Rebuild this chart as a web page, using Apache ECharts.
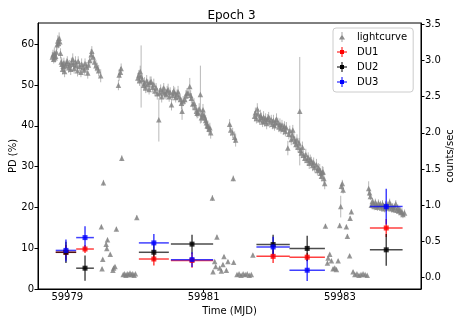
<!DOCTYPE html>
<html>
<head>
<meta charset="utf-8">
<script src="https://cdn.jsdelivr.net/npm/echarts@6/dist/echarts.min.js"></script>
<style>
html,body{margin:0;padding:0;background:#fff;}
#chart{width:463px;height:327px;}
</style>
</head>
<body>
<div id="chart"></div>
<script>
// lightcurve (counts/sec, right axis), one array per orbit: [MJD, rate, err]
var lcOrbit1 = [
  [59978.78,3.05,.07],[59978.79,3.08,.07],[59978.80,3.02,.06],[59978.81,3.10,.08],[59978.82,3.04,.07],
  [59978.83,3.06,.06],[59978.84,3.12,.08],[59978.85,3.22,.07],[59978.86,3.27,.08],[59978.87,3.24,.07],
  [59978.88,3.31,.08],[59978.89,3.26,.07],[59978.90,3.10,.07],[59978.91,2.98,.07],[59978.92,2.95,.08],
  [59978.93,2.88,.07],[59978.94,2.92,.07],[59978.95,2.97,.07],[59978.96,2.85,.08],[59978.97,2.93,.07],
  [59978.99,2.96,.07],[59979.00,2.99,.07],[59979.02,2.90,.07],[59979.03,2.94,.07],[59979.05,2.88,.08],
  [59979.06,2.97,.07],[59979.08,3.02,.08],[59979.09,2.95,.07],[59979.10,2.89,.07],[59979.12,2.98,.08],
  [59979.13,2.93,.07],[59979.15,2.86,.08],[59979.16,2.99,.07],[59979.18,2.92,.07],[59979.20,2.84,.07],
  [59979.21,2.95,.08],[59979.23,2.90,.07],[59979.25,2.87,.08],[59979.26,2.96,.07],[59979.28,2.91,.07],
  [59979.30,2.83,.08],[59979.31,2.94,.07],[59979.33,3.00,.07],[59979.35,3.08,.08],[59979.36,3.13,.07],
  [59979.38,3.05,.07],[59979.40,2.98,.07],[59979.42,2.93,.08],[59979.44,2.90,.07],[59979.46,2.86,.08],
  [59979.49,2.79,.09]
];
var lcOrbit2 = [
  [59979.50,0.70,.03],[59979.51,0.12,.02],[59979.52,0.25,.02],[59979.53,1.31,.04],[59979.57,0.46,.03],
  [59979.58,0.40,.03],[59979.59,0.52,.03],[59979.63,0.32,.02],[59979.67,0.10,.02],[59979.68,0.13,.02],
  [59979.70,0.15,.02],[59979.72,0.67,.03],[59979.75,2.66,.07],[59979.76,2.80,.08],[59979.78,2.84,.07],
  [59979.79,2.89,.07],[59979.80,1.65,.04],[59979.82,0.04,.01],[59979.84,0.05,.01],[59979.86,0.03,.01],
  [59979.88,0.05,.01],[59979.90,0.04,.01],[59979.92,0.06,.01],[59979.94,0.04,.01],[59979.96,0.05,.01],
  [59979.98,0.03,.01],[59980.00,0.05,.01],[59980.02,0.83,.03]
];
var lcOrbit3 = [
  [59980.035,2.76,.07],[59980.05,2.80,.07],[59980.06,2.72,.07],[59980.07,2.85,.08],[59980.083,2.78,.43],
  [59980.10,2.74,.07],[59980.12,2.66,.07],[59980.133,2.69,.08],[59980.15,2.62,.07],[59980.165,2.72,.08],
  [59980.182,2.67,.07],[59980.20,2.60,.07],[59980.215,2.70,.08],[59980.23,2.71,.07],[59980.25,2.63,.07],
  [59980.269,2.67,.08],[59980.285,2.58,.07],[59980.303,2.62,.07],[59980.32,2.54,.08],[59980.343,2.18,.30],
  [59980.353,2.55,.07],[59980.37,2.60,.07],[59980.385,2.50,.08],[59980.401,2.57,.07],[59980.415,2.62,.07],
  [59980.43,2.55,.08],[59980.449,2.53,.07],[59980.465,2.58,.07],[59980.479,2.60,.08],[59980.495,2.50,.07],
  [59980.51,2.56,.07],[59980.529,2.39,.08],[59980.545,2.52,.07],[59980.56,2.58,.07],[59980.577,2.55,.08],
  [59980.59,2.49,.07],[59980.61,2.53,.07],[59980.625,2.57,.08],[59980.64,2.50,.07],[59980.66,2.46,.07],
  [59980.675,2.41,.08],[59980.684,2.30,.12],[59980.70,2.44,.07],[59980.723,2.46,.07],[59980.74,2.51,.08],
  [59980.755,2.55,.07],[59980.772,2.55,.07],[59980.797,2.64,.12],[59980.81,2.52,.07],[59980.821,2.48,.07],
  [59980.84,2.40,.08],[59980.859,2.41,.07],[59980.875,2.35,.07],[59980.895,2.30,.08],[59980.905,2.27,.07],
  [59980.918,2.28,.07],[59980.935,2.33,.08],[59980.953,2.53,.40],[59980.968,2.21,.07],[59980.98,2.26,.07],
  [59980.991,2.32,.08],[59981.005,2.24,.07],[59981.016,2.21,.07],[59981.03,2.17,.08],[59981.041,2.14,.07],
  [59981.053,2.10,.07],[59981.064,2.09,.08],[59981.08,2.05,.07],[59981.092,2.07,.07],[59981.104,2.00,.08]
];
var lcOrbit4 = [
  [59981.129,1.10,.04],[59981.138,0.08,.02],[59981.163,0.22,.02],[59981.177,0.15,.02],[59981.196,0.56,.03],
  [59981.236,0.13,.02],[59981.261,0.09,.02],[59981.284,0.18,.02],[59981.299,0.29,.02],[59981.334,0.10,.02],
  [59981.357,0.22,.02],[59981.382,2.12,.07],[59981.397,2.04,.08],[59981.426,2.00,.07],[59981.435,1.37,.04],
  [59981.441,0.21,.02],[59981.455,1.94,.08],[59981.47,1.90,.09],[59981.49,0.04,.01],[59981.52,0.05,.01],
  [59981.55,0.03,.01],[59981.58,0.05,.01],[59981.61,0.04,.01],[59981.64,0.05,.01],[59981.67,0.03,.01],
  [59981.70,0.04,.01],[59981.723,0.31,.02]
];
var lcOrbit5 = [
  [59981.748,2.23,.07],[59981.76,2.28,.07],[59981.775,2.20,.07],[59981.788,2.33,.08],[59981.80,2.26,.07],
  [59981.821,2.18,.07],[59981.835,2.24,.08],[59981.85,2.21,.07],[59981.865,2.15,.07],[59981.88,2.22,.08],
  [59981.895,2.16,.07],[59981.91,2.20,.07],[59981.925,2.13,.08],[59981.94,2.19,.07],[59981.955,2.22,.07],
  [59981.97,2.15,.08],[59981.993,2.18,.07],[59982.01,2.12,.07],[59982.025,2.17,.08],[59982.04,2.10,.07],
  [59982.055,2.14,.07],[59982.07,2.19,.08],[59982.089,2.14,.07],[59982.105,2.08,.07],[59982.12,2.12,.08],
  [59982.135,2.06,.07],[59982.15,2.11,.07],[59982.17,2.05,.08],[59982.187,2.09,.07],[59982.20,2.02,.07],
  [59982.215,2.07,.08],[59982.236,1.79,.10],[59982.25,1.98,.07],[59982.265,2.03,.07],[59982.286,1.91,.08],
  [59982.30,1.97,.07],[59982.309,2.04,.07],[59982.325,1.93,.08],[59982.34,1.88,.07],[59982.355,1.84,.07],
  [59982.37,1.90,.08],[59982.385,1.80,.07],[59982.40,1.86,.07],[59982.411,2.30,.75],[59982.42,1.76,.07],
  [59982.435,1.72,.07],[59982.45,1.80,.08],[59982.465,1.69,.07],[59982.485,1.65,.07],[59982.50,1.70,.08],
  [59982.52,1.62,.07],[59982.535,1.66,.07],[59982.55,1.58,.08],[59982.565,1.63,.07],[59982.583,1.60,.07],
  [59982.60,1.55,.08],[59982.615,1.59,.07],[59982.63,1.52,.07],[59982.656,1.56,.08],[59982.67,1.48,.07],
  [59982.685,1.51,.07],[59982.704,1.49,.08],[59982.716,1.44,.07],[59982.729,1.40,.07],[59982.742,1.46,.08],
  [59982.754,1.46,.07],[59982.765,1.37,.07],[59982.777,1.30,.08]
];
var lcOrbit6 = [
  [59982.788,0.71,.03],[59982.817,0.20,.02],[59982.827,0.27,.02],[59982.851,0.32,.02],[59982.876,0.23,.02],
  [59982.90,0.12,.02],[59982.924,0.13,.02],[59982.949,0.11,.02],[59982.974,0.23,.02],[59982.997,0.72,.03],
  [59983.012,0.98,.15],[59983.022,1.26,.05],[59983.035,1.30,.05],[59983.047,1.21,.05],[59983.095,0.70,.03],
  [59983.11,0.57,.03],[59983.143,0.30,.02],[59983.15,0.82,.03],[59983.168,0.91,.03],[59983.193,0.08,.02],
  [59983.22,0.04,.01],[59983.25,0.05,.01],[59983.28,0.03,.01],[59983.31,0.04,.01],[59983.34,0.05,.01],
  [59983.37,0.04,.01],[59983.40,0.03,.01]
];
var lcOrbit7 = [
  [59983.422,1.23,.10],[59983.435,1.17,.06],[59983.447,1.12,.05],[59983.461,1.00,.05],[59983.475,1.05,.05],
  [59983.49,1.03,.05],[59983.505,0.98,.05],[59983.52,1.04,.05],[59983.535,1.00,.05],[59983.55,0.97,.05],
  [59983.565,1.03,.05],[59983.58,0.99,.05],[59983.595,1.01,.05],[59983.61,0.96,.05],[59983.625,1.02,.05],
  [59983.64,0.98,.05],[59983.655,0.95,.05],[59983.67,1.01,.05],[59983.685,0.97,.05],[59983.70,1.00,.05],
  [59983.715,0.96,.05],[59983.73,1.04,.05],[59983.745,0.99,.05],[59983.76,0.95,.05],[59983.775,0.98,.05],
  [59983.79,0.94,.05],[59983.805,0.97,.05],[59983.82,1.02,.05],[59983.835,0.93,.05],[59983.85,0.96,.05],
  [59983.865,0.92,.05],[59983.88,0.94,.05],[59983.895,0.90,.05],[59983.91,0.91,.05],[59983.925,0.87,.05],
  [59983.949,0.89,.05]
];

// polarization degree per time bin (left axis)
var duTime = [59978.98, 59979.26, 59980.27, 59980.83, 59982.02, 59982.52, 59983.68];
var duHalf = [0.15, 0.13, 0.22, 0.31, 0.245, 0.26, 0.24];
var du1PD  = [9.0, 9.8, 7.35, 7.0, 8.0, 7.8, 14.95];
var du1Err = [1.8, 1.0, 1.6, 1.8, 1.6, 1.0, 2.2];
var du2PD  = [9.0, 5.1, 9.0, 11.0, 10.9, 9.95, 9.6];
var du2Err = [2.6, 3.1, 2.0, 2.3, 2.4, 3.1, 3.9];
var du3PD  = [9.46, 12.6, 11.3, 7.2, 10.3, 4.6, 20.2];
var du3Err = [2.7, 2.8, 2.2, 1.8, 2.5, 2.65, 4.4];

var xTicks = [59979, 59981, 59983];
var pdTicks = [0, 10, 20, 30, 40, 50, 60];
var rateTicks = [0, 0.5, 1.0, 1.5, 2.0, 2.5, 3.0, 3.5];

var FONT = 'DejaVu Sans';
var lightcurve = [].concat(lcOrbit1, lcOrbit2, lcOrbit3, lcOrbit4, lcOrbit5, lcOrbit6, lcOrbit7);

function duData(pd, err) {
  return duTime.map(function (t, i) { return [t, pd[i], duHalf[i], err[i]]; });
}

// error bars drawn through the axis scales
function errBars(color, width) {
  return function (params, api) {
    var x = api.value(0), y = api.value(1), xe = api.value(2), ye = api.value(3);
    var kids = [];
    var a = api.coord([x, y - ye]), b = api.coord([x, y + ye]);
    kids.push({type: 'line', shape: {x1: a[0], y1: a[1], x2: b[0], y2: b[1]},
      style: {stroke: color, lineWidth: width}});
    if (xe > 0) {
      var c = api.coord([x - xe, y]), d = api.coord([x + xe, y]);
      kids.push({type: 'line', shape: {x1: c[0], y1: c[1], x2: d[0], y2: d[1]},
        style: {stroke: color, lineWidth: width}});
    }
    return {type: 'group', children: kids};
  };
}

var crossIcon = 'path://M0,4.5H10V5.5H0Z M4.5,0H5.5V10H4.5Z M3,3H7V7H3Z';
var lcIcon = 'path://M4.6,0H5.4V10H4.6Z M5,2.5L8,7.5H2Z';

var chart = echarts.init(document.getElementById('chart'));
chart.setOption({
  animation: false,
  backgroundColor: '#fff',
  textStyle: {fontFamily: FONT},
  title: {
    text: 'Epoch 3', left: 'center', top: 5,
    textStyle: {fontFamily: FONT, fontSize: 12, fontWeight: 'normal', color: '#000'}
  },
  grid: {left: 38, right: 42, top: 23, bottom: 38, outerBoundsMode: 'none', containLabel: false,
    show: true, borderColor: '#000', borderWidth: 1},
  legend: {
    orient: 'vertical', left: 333, top: 28,
    padding: [4, 6, 5, 4], itemGap: 5, itemWidth: 20, itemHeight: 10,
    borderColor: '#ccc', borderWidth: 1, borderRadius: 3, backgroundColor: 'rgba(255,255,255,0.8)',
    textStyle: {fontFamily: FONT, fontSize: 10, color: '#000'},
    data: [
      {name: 'lightcurve', icon: lcIcon, itemStyle: {color: '#8c8c8c'}},
      {name: 'DU1', icon: crossIcon, itemStyle: {color: '#ff0000'}},
      {name: 'DU2', icon: crossIcon, itemStyle: {color: '#000000'}},
      {name: 'DU3', icon: crossIcon, itemStyle: {color: '#0000ff'}}
    ]
  },
  xAxis: {
    type: 'value', min: 59978.57, max: 59984.19,
    name: 'Time (MJD)', nameLocation: 'middle', nameGap: 17,
    nameTextStyle: {fontFamily: FONT, fontSize: 10, color: '#000'},
    splitLine: {show: false},
    axisLine: {onZero: false, lineStyle: {color: '#000'}},
    axisTick: {customValues: xTicks, length: 3.5, lineStyle: {color: '#000'}},
    axisLabel: {customValues: xTicks, margin: 3, fontSize: 10, color: '#000', fontFamily: FONT,
      formatter: function (v) { return String(v); }}
  },
  yAxis: [{
    type: 'value', position: 'left', min: 0, max: 65.2,
    name: 'PD (%)', nameLocation: 'middle', nameGap: 20, nameRotate: 90, nameMoveOverlap: false,
    nameTextStyle: {fontFamily: FONT, fontSize: 10, color: '#000'},
    splitLine: {show: false},
    axisLine: {show: true, onZero: false, lineStyle: {color: '#000'}},
    axisTick: {show: true, customValues: pdTicks, length: 3.5, lineStyle: {color: '#000'}},
    axisLabel: {customValues: pdTicks, margin: 4, fontSize: 10, color: '#000', fontFamily: FONT}
  }, {
    type: 'value', position: 'right', min: -0.16, max: 3.52,
    name: 'counts/sec', nameLocation: 'middle', nameGap: 24, nameRotate: 90, nameMoveOverlap: false,
    nameTextStyle: {fontFamily: FONT, fontSize: 10, color: '#000'},
    splitLine: {show: false},
    axisLine: {show: true, onZero: false, lineStyle: {color: '#000'}},
    axisTick: {show: true, customValues: rateTicks, length: 3.5, lineStyle: {color: '#000'}},
    axisLabel: {customValues: rateTicks, margin: 4, fontSize: 10, color: '#000', fontFamily: FONT,
      formatter: function (v) { return v.toFixed(1); }}
  }],
  series: [
    {name: 'lightcurve', type: 'custom', yAxisIndex: 1, encode: {x: 0, y: 1},
      data: lightcurve.map(function (p) { return [p[0], p[1], 0, p[2]]; }),
      renderItem: errBars('rgba(128,128,128,0.55)', 1), z: 1},
    {name: 'lightcurve', type: 'scatter', yAxisIndex: 1, data: lightcurve.map(function (p) { return [p[0], p[1]]; }),
      symbol: 'triangle', symbolSize: 5.5, itemStyle: {color: '#808080'}, z: 2},
    {name: 'DU1', type: 'custom', yAxisIndex: 0, encode: {x: 0, y: 1}, data: duData(du1PD, du1Err),
      renderItem: errBars('rgba(255,0,0,0.75)', 1.5), z: 3},
    {name: 'DU2', type: 'custom', yAxisIndex: 0, encode: {x: 0, y: 1}, data: duData(du2PD, du2Err),
      renderItem: errBars('rgba(0,0,0,0.7)', 1.5), z: 3},
    {name: 'DU3', type: 'custom', yAxisIndex: 0, encode: {x: 0, y: 1}, data: duData(du3PD, du3Err),
      renderItem: errBars('rgba(0,0,255,0.75)', 1.5), z: 3},
    {name: 'DU1', type: 'scatter', yAxisIndex: 0, data: duData(du1PD, du1Err).map(function (p) { return [p[0], p[1]]; }),
      symbol: 'rect', symbolSize: 5, itemStyle: {color: '#ff0000'}, z: 4},
    {name: 'DU2', type: 'scatter', yAxisIndex: 0, data: duData(du2PD, du2Err).map(function (p) { return [p[0], p[1]]; }),
      symbol: 'rect', symbolSize: 5, itemStyle: {color: '#000000'}, z: 4},
    {name: 'DU3', type: 'scatter', yAxisIndex: 0, data: duData(du3PD, du3Err).map(function (p) { return [p[0], p[1]]; }),
      symbol: 'rect', symbolSize: 5, itemStyle: {color: '#0000ff'}, z: 4}
  ]
});
</script>
</body>
</html>
